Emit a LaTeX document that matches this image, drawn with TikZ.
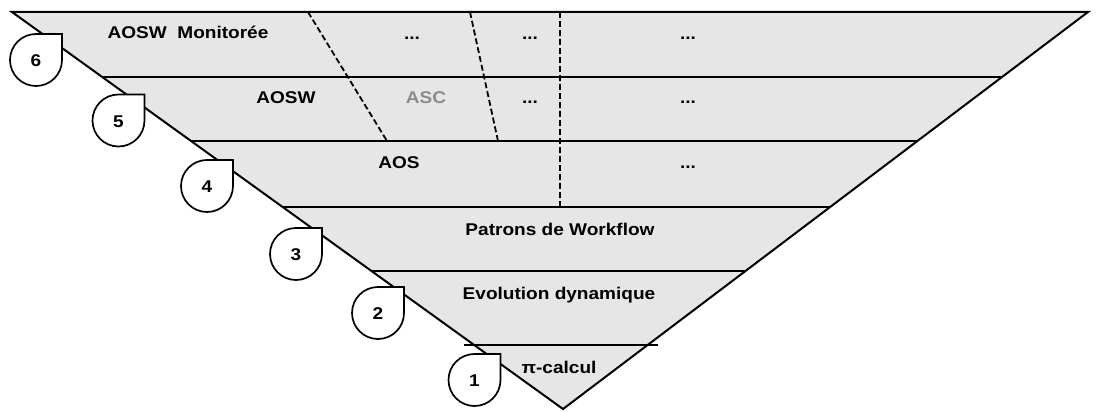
\documentclass[tikz,border=0pt]{standalone}
\usepackage{fontspec}
\setmainfont{Liberation Sans}[FakeStretch=1.12]
\usetikzlibrary{calc}
\definecolor{bandgray}{HTML}{E6E6E6}
\definecolor{ascgray}{HTML}{8C8C8C}
\tikzset{
  lab/.style={anchor=base, inner sep=0pt, font=\fontsize{17}{20}\selectfont\bfseries},
  edge/.style={line width=2pt, black},
  sep/.style={line width=1.8pt, black, dash pattern=on 6pt off 3pt},
  dropshape/.style={line width=1.7pt, fill=white, draw=black, line join=miter},
  numlab/.style={inner sep=0pt, font=\fontsize{17}{20}\selectfont\bfseries}
}
\newcommand\mydrop[3]{%
  \draw[dropshape] (#1,#2) ++(26,0) -- ++(0,-26) -- ++(-26,0) arc (270:0:26) -- cycle;
  \node[numlab] (d#3) at (#1,#2+1) {#3};
}
\begin{document}
\begin{tikzpicture}[x=1pt,y=-1pt]
\useasboundingbox (0,0) rectangle (1100,412);
\coordinate (TL) at (12,12);
\coordinate (TR) at (1088,12);
\coordinate (B) at (563,409);
% fill
\fill[bandgray] (TL) -- (TR) -- (B) -- cycle;
% band lines
\foreach \t/\n in {0.1637/a,0.3249/b,0.4912/c,0.6524/d,0.8388/e}{
  \coordinate (L\n) at ($(TL)!\t!(B)$);
  \coordinate (R\n) at ($(TR)!\t!(B)$);
}
\draw[edge] (La) -- (Ra);
\draw[edge] (Lb) -- (Rb);
\draw[edge] (Lc) -- (Rc);
\draw[edge] (Ld) -- (Rd);
\draw[edge] ($(Le)+(-10,0)$) -- ($(Re)+(10,0)$);
% dashed separators
\coordinate (s1t) at (308,12); \coordinate (s1b) at (387,141);
\coordinate (s2t) at (470,12); \coordinate (s2b) at (498,141);
\coordinate (s3t) at (560,12); \coordinate (s3b) at (560,207);
\draw[sep] (s1t) -- (s1b);
\draw[sep] (s2t) -- (s2b);
\draw[sep] (s3t) -- (s3b);
% outline
\draw[edge, line join=miter] (TL) -- (TR) -- (B) -- cycle;
% labels
\node[lab] (t6) at (188,39) {AOSW\ \ Monitorée};
\node[lab] (t6a) at (412,40) {...};
\node[lab] (t6b) at (530,40) {...};
\node[lab] (t6c) at (688,40) {...};
\node[lab] (t5) at (286,103) {AOSW};
\node[lab, text=ascgray] (t5a) at (426,103) {ASC};
\node[lab] (t5b) at (530,103) {...};
\node[lab] (t5c) at (688,103) {...};
\node[lab] (t4) at (399,168) {AOS};
\node[lab] (t4c) at (688,168) {...};
\node[lab] (t3) at (560,235) {Patrons de Workflow};
\node[lab] (t2) at (559,299) {Evolution dynamique};
\node[lab] (t1) at (559,373) {π-calcul};
% drops
\mydrop{36}{60}{6}
\mydrop{118.5}{120.5}{5}
\mydrop{207}{186}{4}
\mydrop{296}{254}{3}
\mydrop{378}{313}{2}
\mydrop{474.5}{380}{1}
\end{tikzpicture}
\end{document}
